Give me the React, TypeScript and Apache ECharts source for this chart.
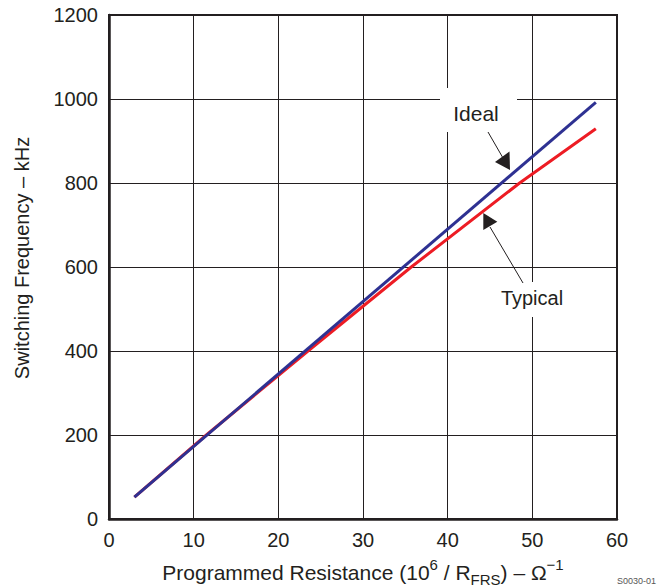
import React, { useEffect, useRef } from "react";
import * as echarts from "echarts";

const idealX = [3, 57.5];
const idealY = [52, 992];
const typicalX = [3, 11.5, 23.5, 35.7, 48.5, 57.5];
const typicalY = [52, 200, 400, 600, 800, 929];
const xTicks = [0, 10, 20, 30, 40, 50, 60];
const yTicks = [0, 200, 400, 600, 800, 1000, 1200];

const FONT = "Liberation Sans, Arial, Helvetica, sans-serif";
const INK = "#231f20";

export default function App() {
  const ref = useRef<HTMLDivElement>(null);
  useEffect(() => {
    if (!ref.current) return;
    const chart = echarts.init(ref.current, undefined, { renderer: "svg" });
    const ideal = idealX.map((x, i) => [x, idealY[i]]);
    const typical = typicalX.map((x, i) => [x, typicalY[i]]);
    chart.setOption({
      animation: false,
      backgroundColor: "#ffffff",
      textStyle: { fontFamily: FONT },
      grid: {
        left: 109,
        right: 42,
        top: 15,
        bottom: 69,
        outerBoundsMode: "none",
        containLabel: false,
        show: true,
        borderColor: INK,
        borderWidth: 2,
        backgroundColor: "transparent",
      },
      xAxis: {
        type: "value",
        min: xTicks[0],
        max: xTicks[xTicks.length - 1],
        interval: 10,
        axisLine: { show: true, lineStyle: { color: INK, width: 2.5 } },
        axisTick: { show: false },
        splitLine: { show: true, lineStyle: { color: INK, width: 1 } },
        axisLabel: {
          color: INK,
          fontSize: 20,
          fontFamily: FONT,
          margin: 11,
          formatter: (v: number) => String(v),
        },
        nameLocation: "middle",
        nameGap: 38,
        name:
          "{a|Programmed Resistance (10}{sup|6}{a| / R}{sub|FRS}{a|) – Ω}{sup|−1}",
        nameTextStyle: {
          color: INK,
          fontFamily: FONT,
          rich: {
            a: { fontSize: 21, lineHeight: 30, color: INK, fontFamily: FONT },
            sup: {
              fontSize: 15,
              lineHeight: 14,
              verticalAlign: "top",
              color: INK,
              fontFamily: FONT,
            },
            sub: {
              fontSize: 15,
              lineHeight: 16,
              verticalAlign: "bottom",
              color: INK,
              fontFamily: FONT,
            },
          },
        },
      },
      yAxis: {
        type: "value",
        min: yTicks[0],
        max: yTicks[yTicks.length - 1],
        interval: 200,
        axisLine: { show: true, lineStyle: { color: INK, width: 2.5 } },
        axisTick: { show: false },
        splitLine: { show: true, lineStyle: { color: INK, width: 1 } },
        axisLabel: {
          color: INK,
          fontSize: 20,
          fontFamily: FONT,
          margin: 11,
          formatter: (v: number) => String(v),
        },
      },
      series: [
        {
          name: "Typical",
          type: "line",
          data: typical,
          showSymbol: false,
          symbol: "none",
          lineStyle: { color: "#ed1c24", width: 3 },
          z: 3,
        },
        {
          name: "Ideal",
          type: "line",
          data: ideal,
          showSymbol: false,
          symbol: "none",
          lineStyle: { color: "#2e3192", width: 3 },
          z: 4,
        },
      ],
      graphic: [
        {
          type: "text",
          z: 11,
          x: 22,
          y: 258,
          rotation: Math.PI / 2,
          style: {
            text: "Switching Frequency – kHz",
            fill: INK,
            fontSize: 20,
            fontFamily: FONT,
            align: "center",
            verticalAlign: "middle",
          },
        },
        {
          type: "rect",
          z: 10,
          shape: { x: 440, y: 88, width: 77, height: 44 },
          style: { fill: "#ffffff" },
        },
        {
          type: "text",
          z: 11,
          x: 476,
          y: 113,
          style: {
            text: "Ideal",
            fill: INK,
            fontSize: 21,
            fontFamily: FONT,
            align: "center",
            verticalAlign: "middle",
          },
        },
        {
          type: "line",
          z: 11,
          shape: { x1: 488, y1: 132, x2: 503, y2: 158 },
          style: { stroke: INK, lineWidth: 1 },
        },
        {
          type: "polygon",
          z: 11,
          shape: { points: [[495, 162], [509.5, 151.5], [510, 170]] },
          style: { fill: INK },
        },
        {
          type: "rect",
          z: 10,
          shape: { x: 495, y: 282, width: 75, height: 35 },
          style: { fill: "#ffffff" },
        },
        {
          type: "text",
          z: 11,
          x: 532,
          y: 298,
          style: {
            text: "Typical",
            fill: INK,
            fontSize: 20,
            fontFamily: FONT,
            align: "center",
            verticalAlign: "middle",
          },
        },
        {
          type: "line",
          z: 11,
          shape: { x1: 523, y1: 283, x2: 490, y2: 227 },
          style: { stroke: INK, lineWidth: 1 },
        },
        {
          type: "polygon",
          z: 11,
          shape: { points: [[483.3, 213], [483.3, 230], [497.3, 221.7]] },
          style: { fill: INK },
        },
        {
          type: "text",
          z: 11,
          x: 656,
          y: 576,
          style: {
            text: "S0030-01",
            fill: "#555555",
            fontSize: 9,
            fontFamily: FONT,
            align: "right",
          },
        },
      ],
    });
    return () => chart.dispose();
  }, []);
  return (
    <div
      ref={ref}
      style={{ position: "fixed", left: 0, top: 0, width: 659, height: 588 }}
    />
  );
}
